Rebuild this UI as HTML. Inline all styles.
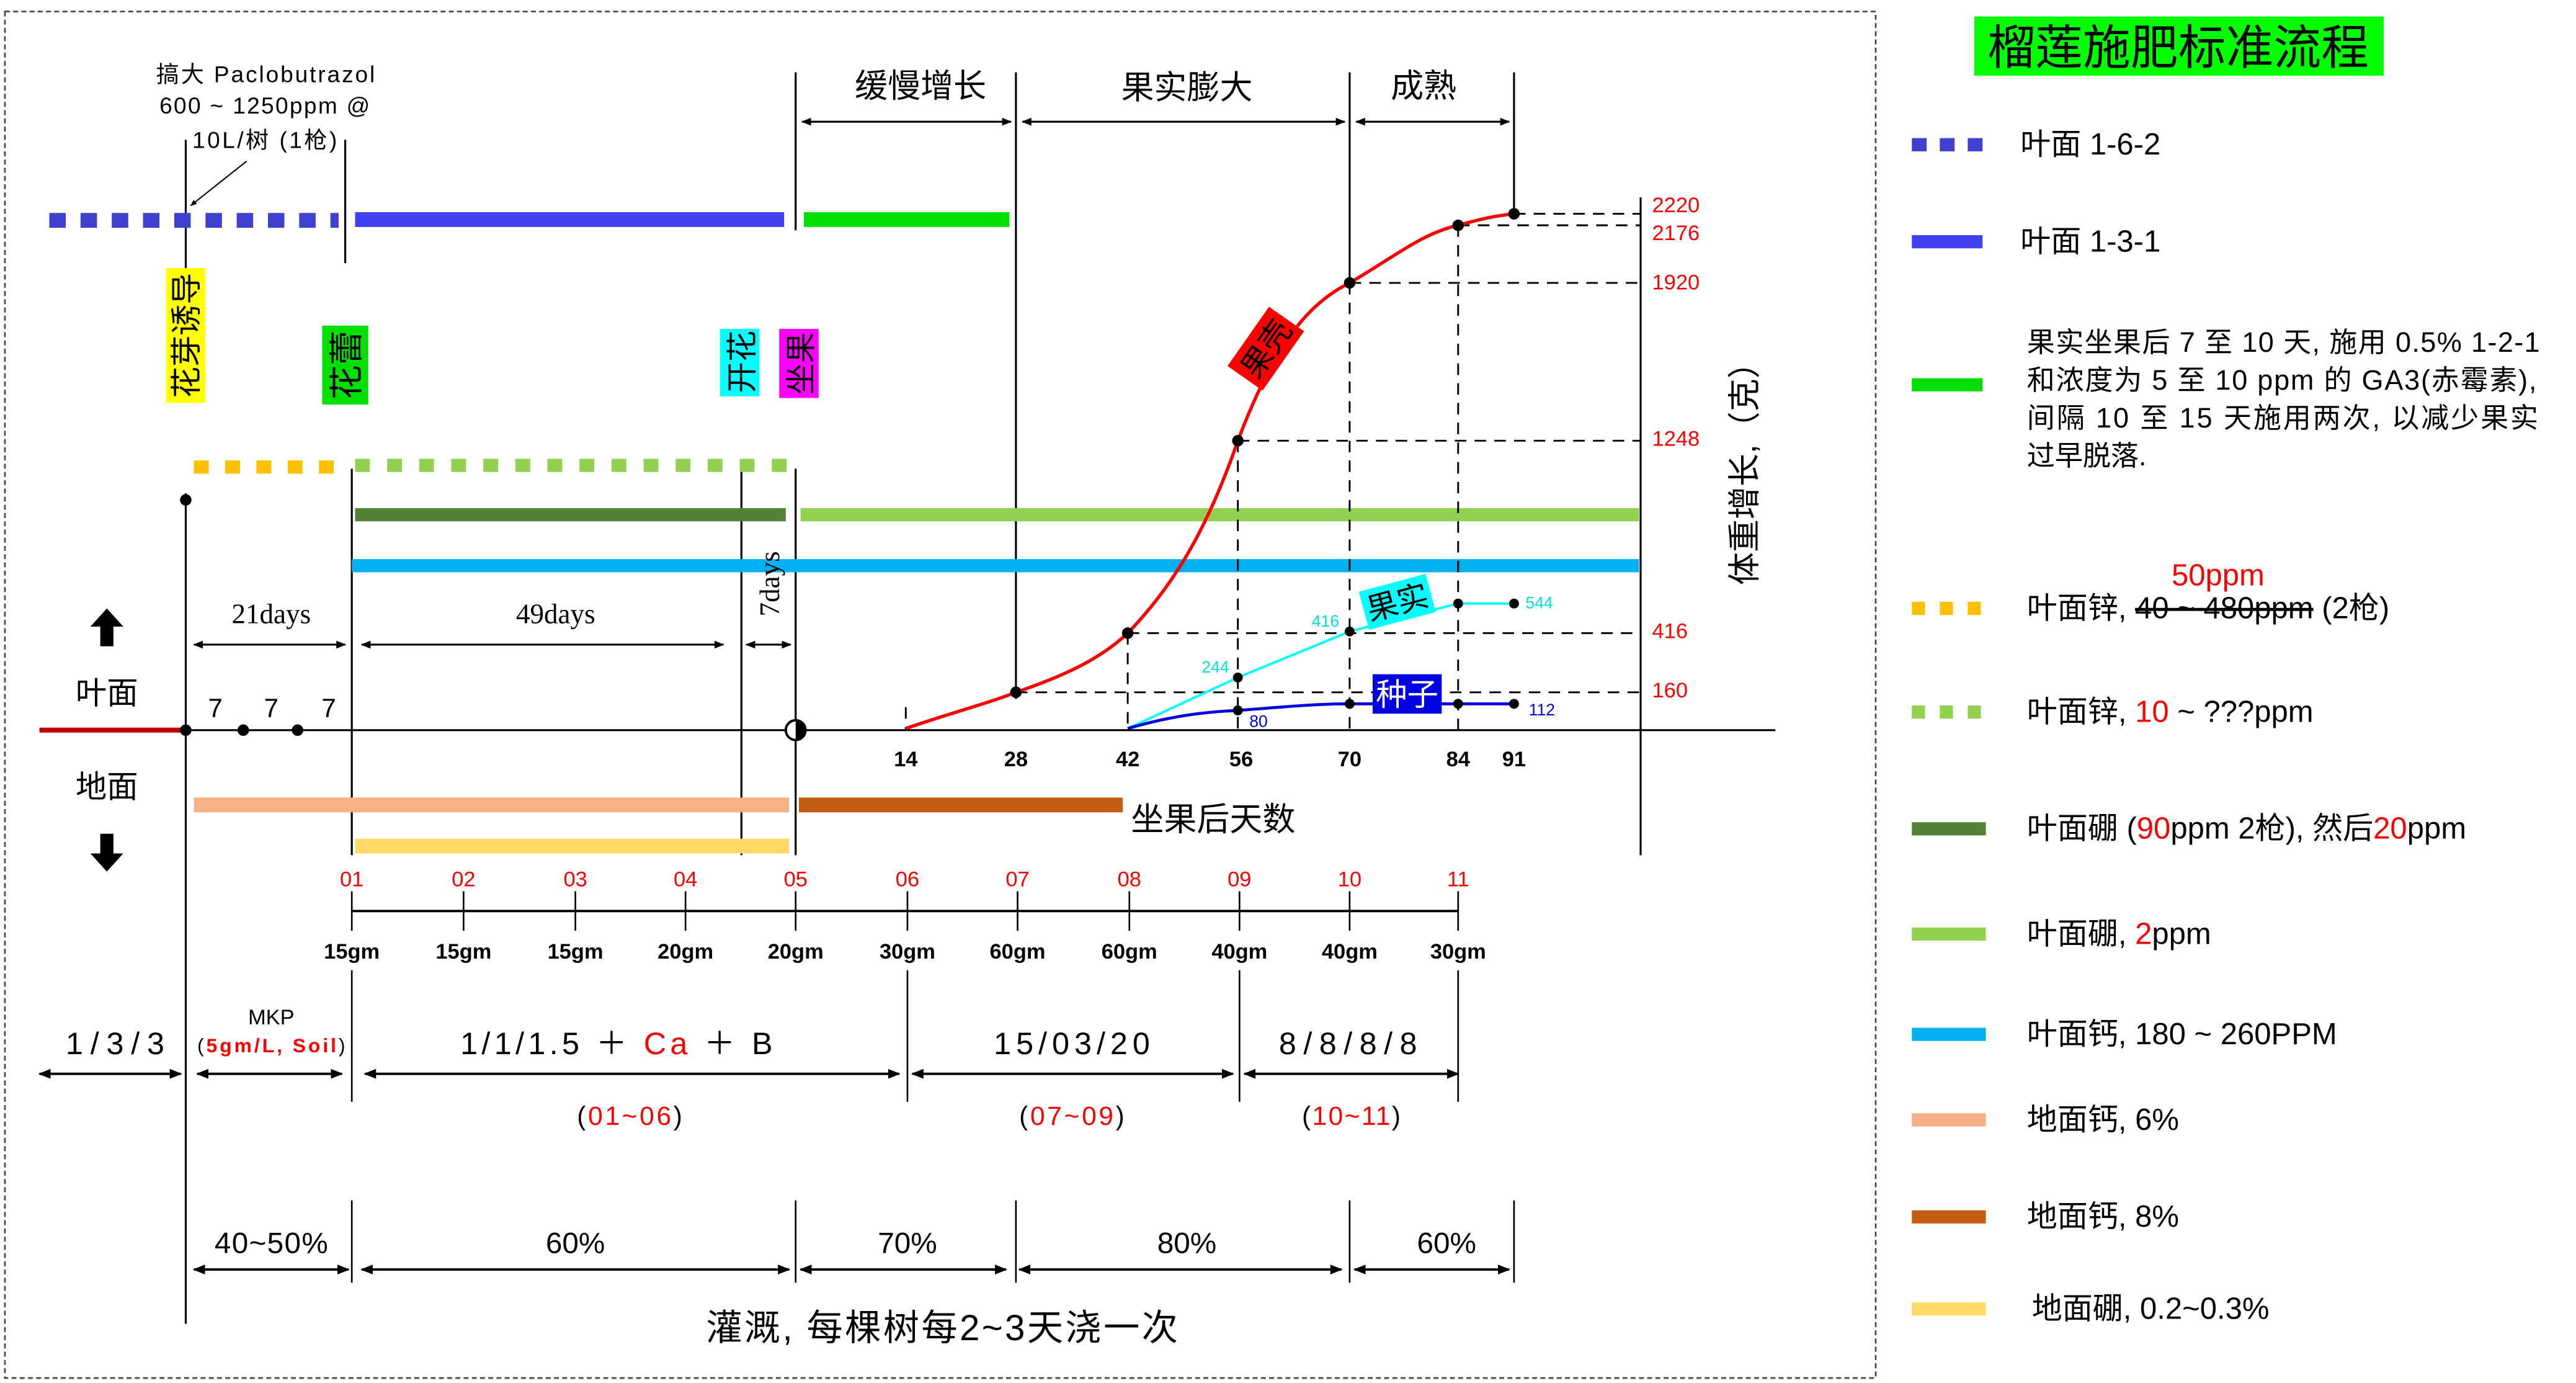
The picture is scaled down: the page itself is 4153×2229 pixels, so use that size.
<!DOCTYPE html>
<html><head><meta charset="utf-8"><style>
html,body{margin:0;padding:0;background:#fff;}
svg{display:block}
text{font-family:"Liberation Sans","Noto Sans CJK SC",sans-serif;}
.s{font-family:"Liberation Serif","Noto Serif CJK SC",serif;}
</style></head><body>
<svg width="4153" height="2229" viewBox="0 0 1567 841" xmlns="http://www.w3.org/2000/svg">
<defs>
<marker id="a" viewBox="0 0 10 10" refX="9" refY="5" markerWidth="5" markerHeight="5" orient="auto-start-reverse"><path d="M0,1 L10,5 L0,9 z" fill="#000"/></marker>
</defs>
<rect x="3" y="7" width="1138" height="831" fill="none" stroke="#444" stroke-width="1" stroke-dasharray="3,2"/>
<g stroke="#000" stroke-width="1.2" fill="none">
<line x1="113" y1="300" x2="113" y2="805"/>
<line x1="113" y1="85" x2="113" y2="180"/>
<line x1="210" y1="85" x2="210" y2="160"/>
<line x1="214" y1="285" x2="214" y2="520"/>
<line x1="451" y1="285" x2="451" y2="520"/>
<line x1="484" y1="44" x2="484" y2="140"/>
<line x1="484" y1="285" x2="484" y2="520"/>
<line x1="618" y1="44" x2="618" y2="425"/>
<line x1="821" y1="44" x2="821" y2="170"/>
<line x1="921" y1="44" x2="921" y2="130"/>
<line x1="998" y1="120" x2="998" y2="520"/>
<line x1="24" y1="444" x2="1080" y2="444"/>
<line x1="488" y1="74" x2="615" y2="74" marker-start="url(#a)" marker-end="url(#a)"/>
<line x1="622" y1="74" x2="818" y2="74" marker-start="url(#a)" marker-end="url(#a)"/>
<line x1="825" y1="74" x2="918" y2="74" marker-start="url(#a)" marker-end="url(#a)"/>
<line x1="118" y1="392" x2="210" y2="392" marker-start="url(#a)" marker-end="url(#a)"/>
<line x1="220" y1="392" x2="440" y2="392" marker-start="url(#a)" marker-end="url(#a)"/>
<line x1="454" y1="392" x2="481" y2="392" marker-start="url(#a)" marker-end="url(#a)"/>
<line x1="150" y1="98" x2="116" y2="125" marker-end="url(#a)" stroke-width="0.8"/>
</g>
<line x1="24" y1="444" x2="113" y2="444" stroke="#c00000" stroke-width="3"/>
<line x1="30" y1="134" x2="206" y2="134" stroke="#3f3fd0" stroke-width="9" stroke-dasharray="10,9"/>
<rect x="216" y="129" width="261" height="9" fill="#4040f0"/>
<rect x="489" y="129" width="125" height="9" fill="#00e000"/>
<rect x="101" y="163" width="24" height="82" fill="#ffff00"/>
<text transform="translate(120,204) rotate(-90)" font-size="19" text-anchor="middle">花芽诱导</text>
<rect x="196" y="198" width="28" height="48" fill="#00e000"/>
<text transform="translate(218,222) rotate(-90)" font-size="21" text-anchor="middle">花蕾</text>
<rect x="438" y="200" width="24" height="41" fill="#00ffff"/>
<text transform="translate(458,220) rotate(-90)" font-size="19" text-anchor="middle">开花</text>
<rect x="474" y="200" width="24" height="42" fill="#ff00ff"/>
<text transform="translate(494,221) rotate(-90)" font-size="19" text-anchor="middle">坐果</text>
<line x1="118" y1="284" x2="206" y2="284" stroke="#ffc000" stroke-width="8" stroke-dasharray="9,10"/>
<line x1="216" y1="283" x2="482" y2="283" stroke="#92d050" stroke-width="8" stroke-dasharray="9,10.5"/>
<rect x="216" y="309" width="262" height="8" fill="#538135"/>
<rect x="487" y="309" width="510" height="8" fill="#92d050"/>
<rect x="214" y="340" width="783" height="8" fill="#00b0f0"/>
<circle cx="113" cy="304" r="3.5"/>
<text x="165" y="379" class="s" font-size="17" text-anchor="middle">21days</text>
<text x="338" y="379" class="s" font-size="17" text-anchor="middle">49days</text>
<text transform="translate(474,355) rotate(-90)" class="s" font-size="17" text-anchor="middle">7days</text>
<path d="M65,370 l-10,11 h6 v12 h8 v-12 h6 z" fill="#000"/>
<path d="M65,530 l-10,-11 h6 v-12 h8 v12 h6 z" fill="#000"/>
<text x="65" y="428" font-size="19" text-anchor="middle">叶面</text>
<text x="65" y="485" font-size="19" text-anchor="middle">地面</text>
<g class="s" font-size="16" text-anchor="middle"><text x="131" y="436">7</text><text x="165" y="436">7</text><text x="200" y="436">7</text></g>
<circle cx="113" cy="444" r="3.5"/><circle cx="148" cy="444" r="3.5"/><circle cx="181" cy="444" r="3.5"/>
<circle cx="484" cy="444" r="6" fill="#fff" stroke="#000" stroke-width="1.5"/>
<path d="M484,438 a6,6 0 0,1 0,12 z" fill="#000"/>
<text x="95" y="50" font-size="14" textLength="133">搞大 Paclobutrazol</text>
<text x="97" y="69" font-size="14" textLength="128">600 ~ 1250ppm @</text>
<text x="117" y="90" font-size="14" textLength="88">10L/树 (1枪)</text>
<text x="560" y="59" font-size="20" text-anchor="middle">缓慢增长</text>
<text x="722" y="60" font-size="20" text-anchor="middle">果实膨大</text>
<text x="866" y="59" font-size="20" text-anchor="middle">成熟</text>
<g class="s" font-size="13" font-weight="bold" text-anchor="middle">
<text x="551" y="466">14</text><text x="618" y="466">28</text><text x="686" y="466">42</text><text x="755" y="466">56</text><text x="821" y="466">70</text><text x="887" y="466">84</text><text x="921" y="466">91</text></g>
<g stroke="#000" stroke-width="1.1" stroke-dasharray="7,5" fill="none">
<path d="M921,130H998 M887,137H998 M821,172H998 M753,268H998 M686,385H998 M618,421H998"/>
<path d="M753,268V444 M686,385V444 M821,172V444 M887,137V444 M551,430V444"/>
</g>
<line x1="998" y1="300" x2="998" y2="520" stroke="#000"/>
<g class="s" font-size="13" fill="#ff0000"><text x="1005" y="129">2220</text><text x="1005" y="146">2176</text><text x="1005" y="176">1920</text><text x="1005" y="271">1248</text><text x="1005" y="388">416</text><text x="1005" y="424">160</text></g>
<path d="M551,443 C580,433 600,428 618,421 C650,410 670,400 686,385 C715,355 735,320 753,268 C775,210 795,185 821,172 C850,155 865,142 887,137 C905,132 912,131 921,130" fill="none" stroke="#ff0000" stroke-width="2"/>
<polyline points="686,443 753,412 821,384 887,367 921,367" fill="none" stroke="#00ffff" stroke-width="1.5"/>
<path d="M686,443 C710,436 730,433 753,432 C780,430 800,428 821,428 L921,428" fill="none" stroke="#0000e0" stroke-width="1.8"/>
<g fill="#000"><circle cx="618" cy="421" r="3.5"/><circle cx="686" cy="385" r="3.5"/><circle cx="753" cy="268" r="3.5"/><circle cx="821" cy="172" r="3.5"/><circle cx="887" cy="137" r="3.5"/><circle cx="921" cy="130" r="3.5"/>
<circle cx="753" cy="412" r="3"/><circle cx="821" cy="384" r="3"/><circle cx="887" cy="367" r="3"/><circle cx="921" cy="367" r="3"/>
<circle cx="753" cy="432" r="3"/><circle cx="821" cy="428" r="3"/><circle cx="887" cy="428" r="3"/><circle cx="921" cy="428" r="3"/></g>
<g class="s" font-size="10"><text x="731" y="409" fill="#00e0e0">244</text><text x="798" y="381" fill="#00e0e0">416</text><text x="928" y="370" fill="#00e0e0">544</text><text x="760" y="442" fill="#0000e0">80</text><text x="930" y="435" fill="#0000e0">112</text></g>
<g transform="translate(770,212) rotate(-55)"><rect x="-22" y="-13" width="44" height="26" fill="#ff0000"/><text x="0" y="7" font-size="19" text-anchor="middle">果壳</text></g>
<g transform="translate(850,366) rotate(-15)"><rect x="-21" y="-12" width="42" height="24" fill="#00ffff"/><text x="0" y="7" font-size="19" text-anchor="middle">果实</text></g>
<rect x="835" y="410" width="42" height="24" fill="#0000e0"/><text x="856" y="429" font-size="19" fill="#fff" text-anchor="middle">种子</text>
<text transform="translate(1068,283) rotate(-90)" font-size="20" text-anchor="middle">体重增长,（克）</text>
<rect x="118" y="485" width="362" height="9" fill="#f4b183"/>
<rect x="486" y="485" width="197" height="9" fill="#c55a11"/>
<rect x="216" y="510" width="264" height="9" fill="#ffd966"/>
<text x="738" y="505" font-size="20" text-anchor="middle">坐果后天数</text>
<g class="s" font-size="13" fill="#ff0000" text-anchor="middle">
<text x="214" y="539">01</text><text x="282" y="539">02</text><text x="350" y="539">03</text><text x="417" y="539">04</text><text x="484" y="539">05</text><text x="552" y="539">06</text><text x="619" y="539">07</text><text x="687" y="539">08</text><text x="754" y="539">09</text><text x="821" y="539">10</text><text x="887" y="539">11</text></g>
<g stroke="#000" stroke-width="1"><line x1="214" y1="554" x2="887" y2="554" stroke-width="1.5"/>
<path d="M214,542V566 M282,542V566 M350,542V566 M417,542V566 M484,542V566 M552,542V566 M619,542V566 M687,542V566 M754,542V566 M821,542V566 M887,542V566"/>
<path d="M214,590V670 M552,590V670 M754,590V670 M887,590V670 M214,730V780 M484,730V780 M618,730V780 M821,730V780 M921,730V780"/></g>
<g class="s" font-size="13" font-weight="bold" text-anchor="middle">
<text x="214" y="583">15gm</text><text x="282" y="583">15gm</text><text x="350" y="583">15gm</text><text x="417" y="583">20gm</text><text x="484" y="583">20gm</text><text x="552" y="583">30gm</text><text x="619" y="583">60gm</text><text x="687" y="583">60gm</text><text x="754" y="583">40gm</text><text x="821" y="583">40gm</text><text x="887" y="583">30gm</text></g>
<g class="s" font-size="19" text-anchor="middle">
<text x="70" y="641" textLength="60">1/3/3</text>
<text x="165" y="623" font-size="13">MKP</text>
<text x="165" y="640" font-size="12" textLength="90"><tspan>(</tspan><tspan fill="#ff0000" font-weight="bold">5gm/L, Soil</tspan><tspan>)</tspan></text>
<text x="375" y="641" textLength="190">1/1/1.5 ＋ <tspan fill="#ff0000">Ca</tspan> ＋ B</text>
<text x="652" y="641" textLength="95">15/03/20</text>
<text x="820" y="641" textLength="84">8/8/8/8</text>
<text x="383" y="684" font-size="16" textLength="64">(<tspan fill="#ff0000">01~06</tspan>)</text>
<text x="652" y="684" font-size="16" textLength="64">(<tspan fill="#ff0000">07~09</tspan>)</text>
<text x="822" y="684" font-size="16" textLength="60">(<tspan fill="#ff0000">10~11</tspan>)</text>
<text x="165" y="762" font-size="18" textLength="69">40~50%</text><text x="350" y="762" font-size="18">60%</text><text x="552" y="762" font-size="18">70%</text><text x="722" y="762" font-size="18">80%</text><text x="880" y="762" font-size="18">60%</text></g>
<g stroke="#000" stroke-width="1.5">
<line x1="24" y1="653" x2="110" y2="653" marker-start="url(#a)" marker-end="url(#a)"/>
<line x1="120" y1="653" x2="208" y2="653" marker-start="url(#a)" marker-end="url(#a)"/>
<line x1="222" y1="653" x2="547" y2="653" marker-start="url(#a)" marker-end="url(#a)"/>
<line x1="555" y1="653" x2="750" y2="653" marker-start="url(#a)" marker-end="url(#a)"/>
<line x1="757" y1="653" x2="887" y2="653" marker-start="url(#a)" marker-end="url(#a)"/>
<line x1="118" y1="772" x2="212" y2="772" marker-start="url(#a)" marker-end="url(#a)"/>
<line x1="220" y1="772" x2="480" y2="772" marker-start="url(#a)" marker-end="url(#a)"/>
<line x1="487" y1="772" x2="612" y2="772" marker-start="url(#a)" marker-end="url(#a)"/>
<line x1="620" y1="772" x2="816" y2="772" marker-start="url(#a)" marker-end="url(#a)"/>
<line x1="824" y1="772" x2="918" y2="772" marker-start="url(#a)" marker-end="url(#a)"/>
</g>
<text x="573" y="815" font-size="22" text-anchor="middle" textLength="287">灌溉, 每棵树每2~3天浇一次</text>
<rect x="1201" y="10" width="249" height="36" fill="#00ff00"/>
<text x="1325" y="39" font-size="29" text-anchor="middle">榴莲施肥标准流程</text>
<line x1="1163" y1="88" x2="1208" y2="88" stroke="#3f3fd0" stroke-width="8" stroke-dasharray="9,8"/>
<rect x="1163" y="143" width="43" height="8" fill="#4040f0"/>
<rect x="1163" y="230" width="43" height="8" fill="#00e000"/>
<line x1="1163" y1="370" x2="1208" y2="370" stroke="#ffc000" stroke-width="8" stroke-dasharray="8,9"/>
<line x1="1163" y1="433" x2="1208" y2="433" stroke="#92d050" stroke-width="8" stroke-dasharray="8,9"/>
<rect x="1163" y="500" width="45" height="8" fill="#538135"/>
<rect x="1163" y="564" width="45" height="8" fill="#92d050"/>
<rect x="1163" y="625" width="45" height="8" fill="#00b0f0"/>
<rect x="1163" y="677" width="45" height="8" fill="#f4b183"/>
<rect x="1163" y="736" width="45" height="8" fill="#c55a11"/>
<rect x="1163" y="792" width="45" height="8" fill="#ffd966"/>
<g font-size="18.5">
<text x="1229" y="94">叶面 1-6-2</text>
<text x="1229" y="153">叶面 1-3-1</text>
<text x="1233" y="214" font-size="17" textLength="312">果实坐果后 7 至 10 天, 施用 0.5% 1-2-1</text>
<text x="1233" y="237" font-size="17" textLength="310">和浓度为 5 至 10 ppm 的 GA3(赤霉素),</text>
<text x="1233" y="260" font-size="17" textLength="311">间隔 10 至 15 天施用两次, 以减少果实</text>
<text x="1233" y="283" font-size="17">过早脱落.</text>
<text x="1321" y="356" fill="#ff0000">50ppm</text>
<text x="1233" y="376">叶面锌, <tspan text-decoration="line-through">40 ~ 480ppm</tspan> (2枪)</text>
<text x="1233" y="439">叶面锌, <tspan fill="#ff0000">10</tspan> ~ ???ppm</text>
<text x="1233" y="510">叶面硼 (<tspan fill="#ff0000">90</tspan>ppm 2枪), 然后<tspan fill="#ff0000">20</tspan>ppm</text>
<text x="1233" y="574">叶面硼, <tspan fill="#ff0000">2</tspan>ppm</text>
<text x="1233" y="635">叶面钙, 180 ~ 260PPM</text>
<text x="1233" y="687">地面钙, 6%</text>
<text x="1233" y="746">地面钙, 8%</text>
<text x="1236" y="802">地面硼, 0.2~0.3%</text>
</g>
</svg>
</body></html>
